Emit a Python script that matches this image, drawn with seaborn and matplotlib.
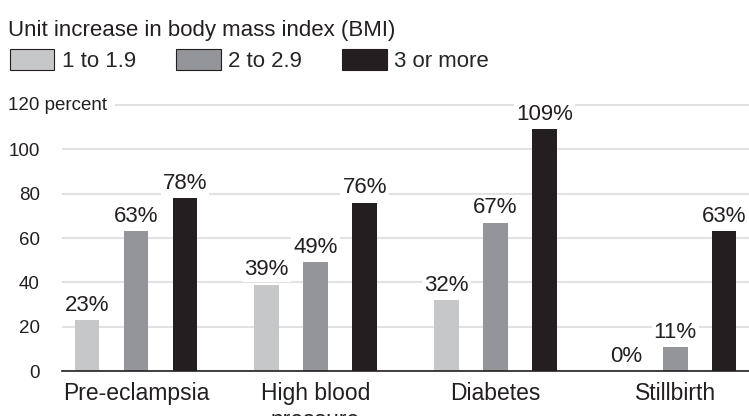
import matplotlib
matplotlib.use("Agg")
import matplotlib.pyplot as plt
import matplotlib.transforms as mtransforms
from matplotlib.patches import Patch
import seaborn as sns
import pandas as pd

# chart data
outcomes = ["Pre-eclampsia", "High blood\npressure", "Diabetes", "Stillbirth"]
bmi_groups = ["1 to 1.9", "2 to 2.9", "3 or more"]
low_bmi = [23, 39, 32, 0]
mid_bmi = [63, 49, 67, 11]
high_bmi = [78, 76, 109, 63]
y_ticks = [0, 20, 40, 60, 80, 100, 120]
colors = ["#c6c7c9", "#939598", "#231f20"]

rows = []
for grp, vals in zip(bmi_groups, [low_bmi, mid_bmi, high_bmi]):
    for outcome, v in zip(outcomes, vals):
        rows.append({"outcome": outcome, "bmi": grp, "pct": v})
df = pd.DataFrame(rows)

sns.set_theme(style="white")
plt.rcParams["font.family"] = ["Liberation Sans", "DejaVu Sans"]
text_color = "#231f20"

fig = plt.figure(figsize=(7.49, 4.16), dpi=100)
ax = fig.add_axes([0.083, 0.108, 0.917, 0.65])

sns.barplot(data=df, x="outcome", y="pct", hue="bmi", order=outcomes,
            hue_order=bmi_groups, palette=colors, width=0.817, gap=0.5,
            saturation=1, legend=False, linewidth=0, ax=ax)

ax.set_xlim(-0.41, 3.41)
ax.set_ylim(0, 122)
ax.set_yticks(y_ticks)
ax.set_yticklabels([str(t) for t in y_ticks[:-1]] + [""], fontsize=13.5, color=text_color)
ax.tick_params(axis="y", length=0, pad=16)
ax.tick_params(axis="x", length=0, pad=8, labelsize=16.5, labelcolor=text_color)
ax.set_xlabel("")
ax.set_ylabel("")
ax.grid(axis="y", color="#e2e2e2", linewidth=1.5)
ax.set_axisbelow(True)
for side in ["top", "right", "left"]:
    ax.spines[side].set_visible(False)
ax.spines["bottom"].set_color(text_color)
ax.spines["bottom"].set_linewidth(1.2)

# top tick label carries the unit and hides the start of its gridline
trans = mtransforms.blended_transform_factory(fig.transFigure, ax.transData)
ax.text(8 / 749, 120, "120 percent", transform=trans, ha="left", va="center",
        fontsize=13.5, color=text_color,
        bbox=dict(facecolor="white", edgecolor="none", pad=6), clip_on=False)

for cont, vals in zip(ax.containers, [low_bmi, mid_bmi, high_bmi]):
    ax.bar_label(cont, labels=[f"{v}%" for v in vals], padding=3, fontsize=16,
                 color=text_color,
                 bbox=dict(facecolor="white", edgecolor="none", pad=1.5))

fig.text(0.011, 0.953, "Unit increase in body mass index (BMI)", ha="left",
         va="top", fontsize=16, color=text_color)
handles = [Patch(facecolor=c, edgecolor=text_color, linewidth=0.8) for c in colors]
fig.legend(handles, bmi_groups, loc="upper left", bbox_to_anchor=(0.013, 0.882),
           ncol=3, frameon=False, fontsize=16, handlelength=2.0, handleheight=1.05,
           handletextpad=0.35, columnspacing=1.8, borderpad=0, borderaxespad=0)

fig.savefig("out.png", dpi=100)
